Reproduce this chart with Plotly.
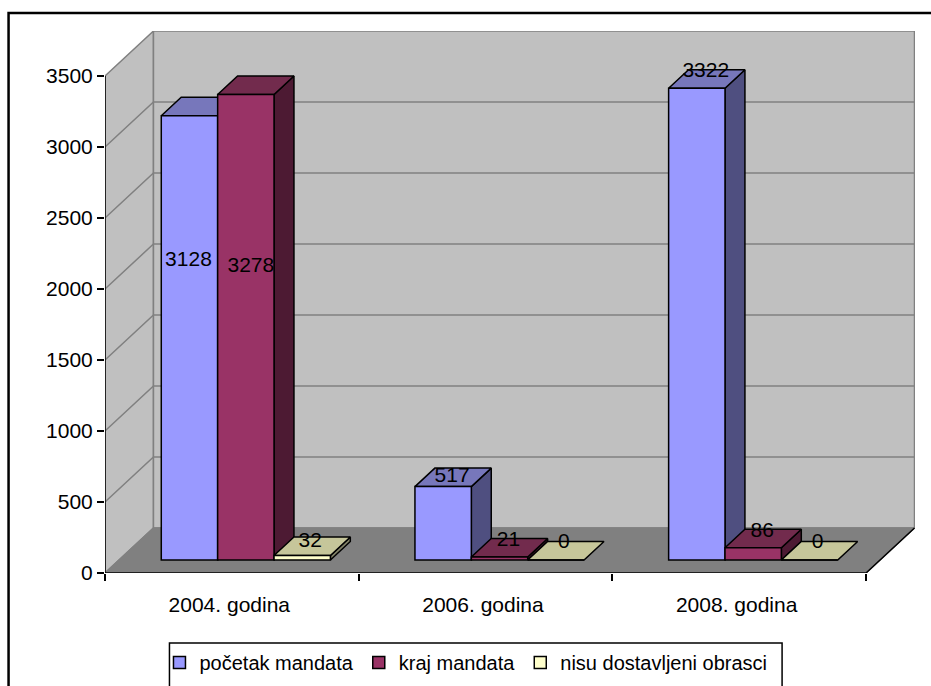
import plotly.graph_objects as go

categories = ["2004. godina", "2006. godina", "2008. godina"]
series_names = ["početak mandata", "kraj mandata", "nisu dostavljeni obrasci"]
pocetak = [3128, 517, 3322]
kraj = [3278, 21, 86]
nisu = [32, 0, 0]
y_ticks = [0, 500, 1000, 1500, 2000, 2500, 3000, 3500]

# styling / projection constants
W, H = 931, 686
L, R, T, B = 104.5, 915.0, 31.0, 573.0      # plot rectangle in page pixels
CAT_PX = 253.83
PX_PER_UNIT = 497 / 3500
DEPTH_X = 48.5 / CAT_PX                     # wall depth, in category units
DEPTH_Y = 45 / PX_PER_UNIT                  # wall depth, in value units
BAR_W = 1 / 4.5
GAP = 0.75 / 4.5
D1, D2 = 13 / 45, 31.5 / 45                 # bar depth span (0 front, 1 back)
FRONT = ["#9999FF", "#993366", "#FFFFCC"]
TOP = ["#7777BB", "#722B4D", "#C6C69A"]
SIDE = ["#4F4F80", "#4D1A33", "#808066"]
FONT = "Liberation Sans"
FS = 21
# label offsets from the middle of a bar's top front edge, in pixels
label_dx = [[-1, 9, 9], [5, 9, 9], [8, 8, 8]]
label_dy = [[-145, 10, 17], [-172, 16, 16], [14, 17, 17]]

all_values = [pocetak, kraj, nisu]
fig = go.Figure()
xmax = (R - L) / CAT_PX
ymax = (B - T) / PX_PER_UNIT


def poly(xs, ys, fill, line="#000000", width=1.5, z=0):
    fig.add_trace(go.Scatter(
        x=xs, y=ys, mode="lines", fill="toself", fillcolor=fill,
        line=dict(color=line, width=width), showlegend=False, hoverinfo="skip", zorder=z))


def seg(xs, ys, color="#808080", width=1.5, z=1):
    fig.add_trace(go.Scatter(
        x=xs, y=ys, mode="lines", line=dict(color=color, width=width),
        showlegend=False, hoverinfo="skip", zorder=z))


top_val = y_ticks[-1]
# walls and floor
poly([0, DEPTH_X, DEPTH_X, 0, 0], [0, DEPTH_Y, top_val + DEPTH_Y, top_val, 0], "#C0C0C0", "#808080", 1.5, 0)
poly([DEPTH_X, 3 + DEPTH_X, 3 + DEPTH_X, DEPTH_X, DEPTH_X],
     [DEPTH_Y, DEPTH_Y, top_val + DEPTH_Y, top_val + DEPTH_Y, DEPTH_Y], "#C0C0C0", "#808080", 1.5, 0)
poly([0, 3, 3 + DEPTH_X, DEPTH_X, 0], [0, 0, DEPTH_Y, DEPTH_Y, 0], "#808080", "#808080", 1.5, 0)

# gridlines
for t in y_ticks[1:-1]:
    seg([0, DEPTH_X, 3 + DEPTH_X], [t, t + DEPTH_Y, t + DEPTH_Y])

# axis lines
seg([0, 0], [0, top_val], "#000000", 1.5, 1)
seg([0, 3, 3 + DEPTH_X], [0, 0, DEPTH_Y], "#000000", 1.5, 1)

base = D1 * DEPTH_Y
ox1, ox2 = D1 * DEPTH_X, D2 * DEPTH_X
oy2 = D2 * DEPTH_Y
for s, vals in enumerate(all_values):
    xs = [c + GAP + s * BAR_W + ox1 for c in range(len(categories))]
    for x, v in zip(xs, vals):
        xr = x + BAR_W
        dx = ox2 - ox1
        ytop = base + v
        dy = oy2 - base
        if v > 0:
            poly([xr, xr + dx, xr + dx, xr, xr], [base, oy2, ytop + dy, ytop, base], SIDE[s], z=2 + 2 * s)
        poly([x, xr, xr + dx, x + dx, x], [ytop, ytop, ytop + dy, ytop + dy, ytop], TOP[s], z=2 + 2 * s)
    fig.add_trace(go.Bar(
        x=[x + BAR_W / 2 for x in xs], y=vals, base=base, width=BAR_W, name=series_names[s],
        marker=dict(color=FRONT[s], line=dict(color="#000000", width=1.5)),
        hoverinfo="skip", zorder=3 + 2 * s))

# data labels
for s, vals in enumerate(all_values):
    fig.add_trace(go.Scatter(
        x=[c + GAP + s * BAR_W + ox1 + BAR_W / 2 + label_dx[s][c] / CAT_PX for c in range(len(categories))],
        y=[base + v + label_dy[s][c] / PX_PER_UNIT for c, v in enumerate(vals)],
        mode="text", text=[str(v) for v in vals], textposition="middle center",
        textfont=dict(family=FONT, size=FS, color="#000000"),
        showlegend=False, hoverinfo="skip", cliponaxis=False, zorder=20))


def px(x):
    return (x - L) / (R - L)


def py(y):
    return (B - y) / (B - T)


shapes = [
    dict(type="rect", xref="paper", yref="paper", x0=px(8), x1=px(945), y0=py(13), y1=py(705),
         line=dict(color="#000000", width=2.5), layer="below"),
    dict(type="rect", xref="paper", yref="paper", x0=px(169), x1=px(782), y0=py(643), y1=py(705),
         line=dict(color="#000000", width=1.5), fillcolor="#FFFFFF", layer="below"),
]

fig.update_layout(
    width=W, height=H, autosize=False, barmode="overlay",
    paper_bgcolor="#FFFFFF", plot_bgcolor="rgba(0,0,0,0)",
    margin=dict(l=L, r=W - R, t=T, b=H - B, pad=0, autoexpand=False),
    font=dict(family=FONT, size=FS, color="#000000"),
    shapes=shapes,
    legend=dict(orientation="h", x=px(159), y=py(643), xanchor="left", yanchor="top",
                bgcolor="rgba(0,0,0,0)", borderwidth=0, font=dict(family=FONT, size=20),
                traceorder="normal", itemwidth=30),
    xaxis=dict(range=[0, xmax], showgrid=False, zeroline=False, showline=False,
               tickmode="array", tickvals=[c + 0.49 for c in range(len(categories))], ticktext=categories,
               ticks="", ticklabelstandoff=17, fixedrange=True,
               minor=dict(tickmode="array", tickvals=[0, 1, 2, 3], ticks="outside", ticklen=7,
                          tickcolor="#000000", tickwidth=1.5, showgrid=False)),
    yaxis=dict(range=[0, ymax], showgrid=False, zeroline=False, showline=False,
               tickmode="array", tickvals=y_ticks, ticktext=[str(t) for t in y_ticks],
               ticks="outside", ticklen=7, tickcolor="#000000", tickwidth=1.5, fixedrange=True),
)

fig.write_html("out.html", include_plotlyjs=True, config={"displayModeBar": False},
               post_script="document.body.style.margin='0';document.body.style.overflow='hidden';")
